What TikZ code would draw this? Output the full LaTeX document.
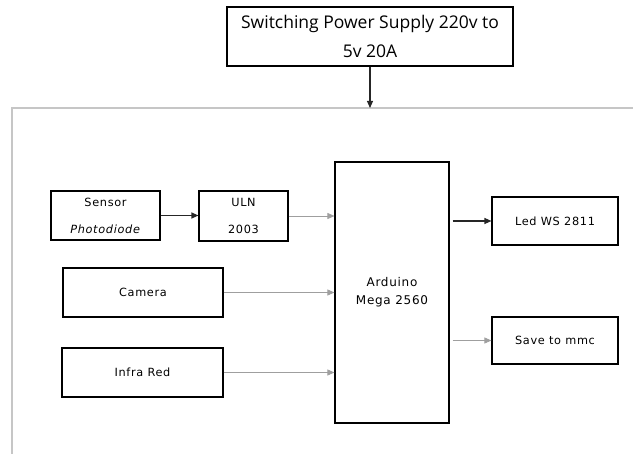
\documentclass[tikz,border=0pt]{standalone}
\usepackage{fontspec}
\setmainfont[LetterSpace=6]{DejaVu Sans}
\newfontfamily\titlefont{Open Sans}
\usetikzlibrary{arrows.meta}

\tikzset{
  blok/.style={draw, line width=1.1pt, inner sep=0pt, align=center,
    font=\fontsize{11.3}{13}\selectfont},
  tipis/.style={-{Triangle[length=7pt,width=6pt]}, draw=gray!75, line width=0.7pt},
  tebal/.style={-{Triangle[length=7pt,width=6pt]}, draw=black!85, line width=1.1pt},
}

\begin{document}
\begin{tikzpicture}[x=1pt, y=-1pt]
\useasboundingbox (0,0) rectangle (633,454);
% frame of the system
\draw[gray!45, line width=1.5pt] (633,108) -- (12,108) -- (12,454);
\coordinate (frametop) at (370,108);

\node[blok, minimum width=286pt, minimum height=59pt,
  font=\titlefont\fontsize{17.5}{29}\selectfont] (psu) at (370,36.5)
  {Switching Power Supply 220v to\\5v 20A};
\node[blok, minimum width=109pt, minimum height=49pt,
  font=\fontsize{11.3}{27}\selectfont] (sensor) at (105.5,215.5)
  {Sensor\\\textit{Photodiode}};
\node[blok, minimum width=89pt, minimum height=50pt,
  font=\fontsize{11.3}{27}\selectfont] (uln) at (243.5,216) {ULN\\2003};
\node[blok, minimum width=160pt, minimum height=49pt] (cam) at (143,292.5) {Camera};
\node[blok, minimum width=161pt, minimum height=49pt] (ir) at (142.5,372.5) {Infra Red};
\node[blok, minimum width=114pt, minimum height=261pt,
  font=\fontsize{12}{18}\selectfont] (ard) at (392,292.5) {Arduino\\Mega 2560};
\node[blok, minimum width=126pt, minimum height=48pt] (led) at (555,221) {Led WS 2811};
\node[blok, minimum width=126pt, minimum height=47pt] (save) at (555,340.5) {Save to mmc};

% connections
\draw[tebal] (psu.south) -- (frametop);
\draw[tebal] (sensor.east) -- (sensor.east -| uln.west);
\draw[tipis] (uln.east) -- (uln.east -| ard.west);
\draw[tipis] (cam.east) -- (cam.east -| ard.west);
\draw[tipis] (ir.east) -- (ir.east -| ard.west);
\draw[tebal, shorten <=3pt] (led.west -| ard.east) -- (led.west);
\draw[tipis, shorten <=3pt] (save.west -| ard.east) -- (save.west);
\end{tikzpicture}
\end{document}
